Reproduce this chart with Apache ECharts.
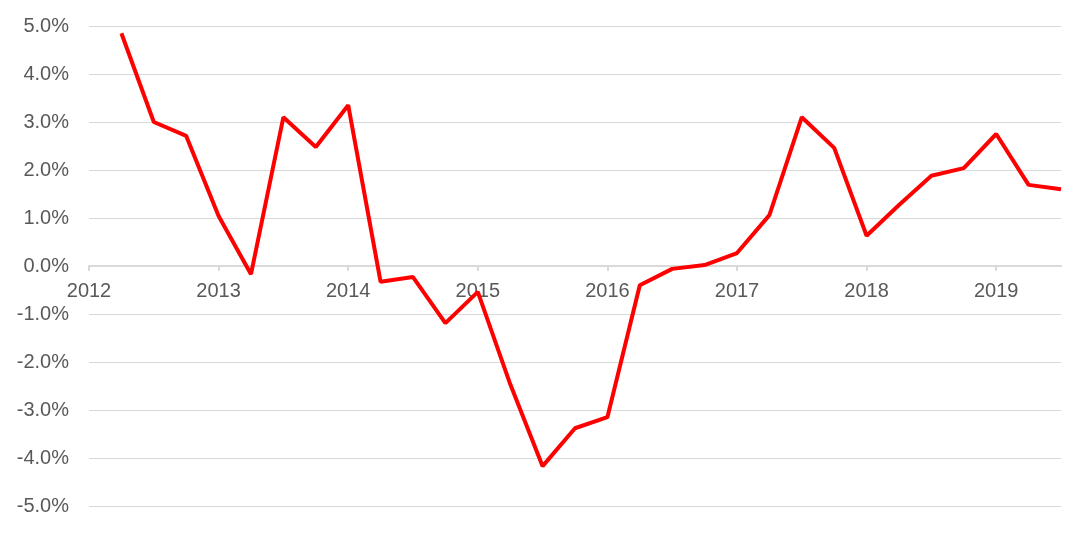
<!DOCTYPE html>
<html><head><meta charset="utf-8">
<script src="https://cdn.jsdelivr.net/npm/echarts@6/dist/echarts.min.js"></script>
<style>html,body{margin:0;padding:0;background:#fff}#c{width:1086px;height:537px}</style>
</head><body><div id="c"></div>
<script>
const quarters = [2012.25,2012.5,2012.75,2013,2013.25,2013.5,2013.75,2014,2014.25,2014.5,2014.75,2015,2015.25,2015.5,2015.75,2016,2016.25,2016.5,2016.75,2017,2017.25,2017.5,2017.75,2018,2018.25,2018.5,2018.75,2019,2019.25,2019.5];
const values = [4.85,3.00,2.71,1.04,-0.17,3.10,2.48,3.35,-0.33,-0.23,-1.19,-0.54,-2.46,-4.17,-3.38,-3.15,-0.40,-0.06,0.02,0.27,1.06,3.10,2.46,0.63,1.27,1.88,2.04,2.75,1.69,1.60];
const yTicks = [-5,-4,-3,-2,-1,0,1,2,3,4,5];
const data = quarters.map((q,i)=>[q, values[i]]);
const chart = echarts.init(document.getElementById('c'));
chart.setOption({
  animation:false,
  grid:{left:89,right:25,top:26,bottom:31,containLabel:false},
  xAxis:{type:'value',min:2012,max:2019.5,interval:1,position:'bottom',offset:-240,
    axisLine:{onZero:false,lineStyle:{color:'#d9d9d9',width:2}},
    axisTick:{show:true,length:5,lineStyle:{color:'#d9d9d9',width:2}},
    splitLine:{show:false},
    axisLabel:{color:'#595959',fontSize:20,fontFamily:'Liberation Sans, Arial, sans-serif',margin:15,
      showMaxLabel:false,formatter:v=>Number.isInteger(v)?String(v):''}},
  yAxis:{type:'value',min:yTicks[0],max:yTicks[yTicks.length-1],interval:1,
    axisLine:{show:false},axisTick:{show:false},
    splitLine:{lineStyle:{color:'#d9d9d9',width:1}},
    axisLabel:{color:'#595959',fontSize:20,fontFamily:'Liberation Sans, Arial, sans-serif',margin:20,
      formatter:v=>v.toFixed(1)+'%'}},
  series:[{type:'line',data:data,showSymbol:false,lineStyle:{color:'#ff0000',width:4},itemStyle:{color:'#ff0000'}}]
});
</script></body></html>
